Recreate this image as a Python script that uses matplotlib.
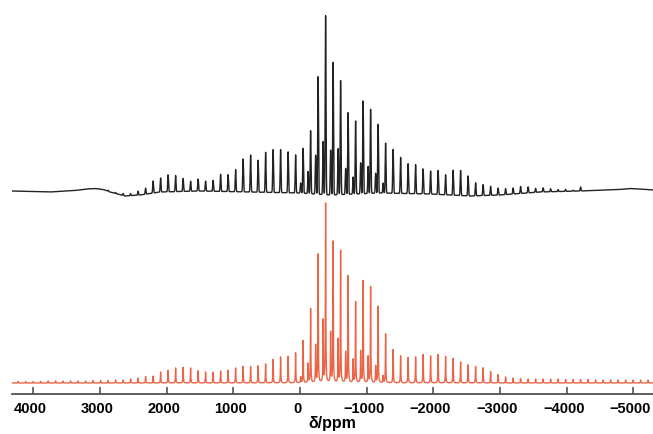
import numpy as np
import matplotlib.pyplot as plt
import matplotlib.transforms as mtransforms

plt.rcParams['font.family'] = ['Liberation Sans', 'DejaVu Sans']

# sideband pattern (ppm); order n counts to the right (lower ppm)
center_ppm = -384.0
spin_step = 112.5
site2_shift = 37.0

# experimental (top, black): heights of main-site sidebands, order -30..34
top_orders = list(range(-30, 35))
top_main = [0, 1, 1, 2, 2, 4, 6, 12, 14, 17, 16, 13, 10, 12, 10, 11, 17, 17, 22, 33,
            37, 32, 40, 43, 43, 41, 38, 45, 63, 118, 179, 133, 114, 82, 73, 93, 84, 69,
            50, 44, 36, 30, 29, 25, 23, 24, 20, 25, 25, 20, 13, 11, 9, 7, 6, 6, 7, 6,
            4, 4, 3, 2, 2, 1, 4]
# second site, order -3..8
site2_orders = list(range(-3, 9))
top_site2 = [10, 22, 39, 53, 45, 46, 26, 17, 31, 27, 20, 10]

# rolling baseline of the experimental trace
top_base_ppm = [4330, 3750, 3375, 3200, 3075, 2950, 2850, 2625, 2400, 2100, 1500, 750,
                0, -450, -1200, -1950, -2550, -3000, -3600, -4200, -4800, -4950, -5100,
                -5300]
top_base_lvl = [203, 202, 203.5, 205, 205.5, 204.5, 202, 198, 199, 202, 203, 202, 201,
                199, 201, 200, 198, 199, 202, 203, 204.5, 205.5, 205, 204]

# simulated (bottom, red): order -41..43
sim_orders = list(range(-41, 44))
sim_main = [1.5, 1.5, 1.5, 1.5, 2, 2, 2, 2, 2, 2, 2.5, 2.5,
            2.5, 3, 3, 4, 5, 6.5, 7, 11, 13, 15, 16, 15, 12.5, 11, 11, 12, 13, 15, 17,
            16.5, 17.5, 19, 24, 26, 27, 30, 43, 74, 131, 179, 144, 132, 109, 81, 104,
            96, 78, 49, 34, 27, 26, 26, 29, 27, 29, 26.5, 25, 21, 18.5, 16.5, 15.5,
            11.5, 8.5, 6, 5, 4.5, 4,
            4, 4, 4, 4, 3.5, 3.5, 3.5, 3.5, 3, 3, 3, 3, 3, 3, 3, 3]
sim_site2 = [6, 19, 38, 62, 51, 43, 31, 23, 32, 26, 17, 7]
sim_base = 11

ppm = np.arange(4330, -5300, -1.0)


def lines(orders, heights, shift, width, shape):
    out = np.zeros_like(ppm)
    for n, h in zip(orders, heights):
        x0 = center_ppm + shift - n * spin_step
        u = (ppm - x0) / (width / 2)
        if shape == 'gauss':
            out += h * np.exp(-np.log(2) * u ** 2)
        else:
            out += h / (1 + u ** 2)
    return out


top = np.interp(ppm, top_base_ppm[::-1], top_base_lvl[::-1])
top = top + lines(top_orders, top_main, 0, 14, 'gauss') \
    + lines(site2_orders, top_site2, site2_shift, 14, 'gauss')
sim = sim_base + lines(sim_orders, sim_main, 0, 7, 'lor') \
    + lines(site2_orders, sim_site2, site2_shift, 7, 'lor')

fig = plt.figure(figsize=(6.53, 4.35), dpi=100)
ax = fig.add_axes([12 / 653, 40 / 435, 641 / 653, 395 / 435])

ax.plot(ppm, top, color='#222222', lw=1.0)
ax.plot(ppm, sim, color='#ec6446', lw=1.0)

ax.set_xlim(4320, -5295)
ax.set_ylim(0, 395)
ax.set_xticks(range(4000, -5001, -1000))
ax.set_yticks([])
for s in ['top', 'left', 'right']:
    ax.spines[s].set_visible(False)
ax.spines['bottom'].set_color('#444444')
ax.spines['bottom'].set_linewidth(1.2)
ax.tick_params(axis='x', direction='in', length=5, width=1.1, color='#444444', pad=5,
               labelsize=10.5)
shift = mtransforms.ScaledTranslation(-3 / 100, 0, fig.dpi_scale_trans)
for lab in ax.get_xticklabels():
    lab.set_fontweight('bold')
    lab.set_transform(lab.get_transform() + shift)
ax.set_xlabel('δ/ppm', fontsize=11.5, fontweight='bold', labelpad=0)

fig.savefig('out.png', dpi=100)
